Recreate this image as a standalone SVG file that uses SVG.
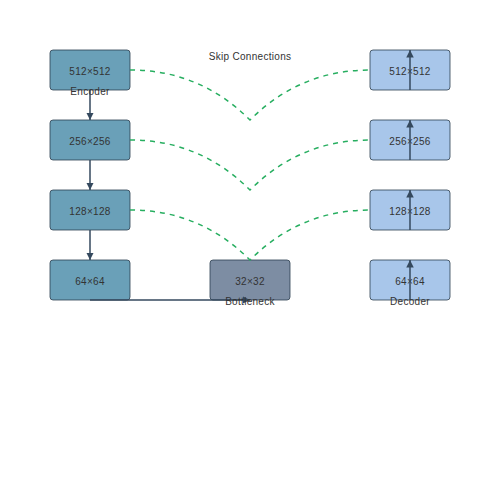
<svg xmlns="http://www.w3.org/2000/svg" width="500" height="500" viewBox="0 0 500 500">
<style>
.box{stroke:#2c3e50;stroke-opacity:0.8;stroke-width:1}
.enc{fill:#6aa0b8}
.dec{fill:#a8c6ea}
.bot{fill:#7d8da3}
.lbl{font-family:"Liberation Sans",Arial,sans-serif;font-size:10px;fill:#333;text-anchor:middle;dominant-baseline:middle;letter-spacing:0.3px}
.flow{stroke:#34495e;stroke-width:1.5;fill:none}
.skip{stroke:#27ae60;stroke-width:1.5;fill:none;stroke-dasharray:5,5}
</style>
<defs>
<marker id="ah" viewBox="0 0 10 10" refX="10" refY="5" markerWidth="5" markerHeight="5" orient="auto">
<path d="M0,0L10,5L0,10z" fill="#34495e"/>
</marker>
</defs>
<rect width="500" height="500" fill="#fff"/>
<g id="enc512"><rect class="box enc" x="50" y="50" width="80" height="40" rx="3"/><text class="lbl" x="90" y="72">512×512</text></g>
<g id="enc256"><rect class="box enc" x="50" y="120" width="80" height="40" rx="3"/><text class="lbl" x="90" y="142">256×256</text></g>
<g id="enc128"><rect class="box enc" x="50" y="190" width="80" height="40" rx="3"/><text class="lbl" x="90" y="212">128×128</text></g>
<g id="enc64"><rect class="box enc" x="50" y="260" width="80" height="40" rx="3"/><text class="lbl" x="90" y="282">64×64</text></g>
<g id="bottleneck"><rect class="box bot" x="210" y="260" width="80" height="40" rx="3"/><text class="lbl" x="250" y="282">32×32</text></g>
<g id="dec512"><rect class="box dec" x="370" y="50" width="80" height="40" rx="3"/><text class="lbl" x="410" y="72">512×512</text></g>
<g id="dec256"><rect class="box dec" x="370" y="120" width="80" height="40" rx="3"/><text class="lbl" x="410" y="142">256×256</text></g>
<g id="dec128"><rect class="box dec" x="370" y="190" width="80" height="40" rx="3"/><text class="lbl" x="410" y="212">128×128</text></g>
<g id="dec64"><rect class="box dec" x="370" y="260" width="80" height="40" rx="3"/><text class="lbl" x="410" y="282">64×64</text></g>
<g id="connectors">
<line class="flow" x1="90" y1="90" x2="90" y2="120" marker-end="url(#ah)"/>
<line class="flow" x1="90" y1="160" x2="90" y2="190" marker-end="url(#ah)"/>
<line class="flow" x1="90" y1="230" x2="90" y2="260" marker-end="url(#ah)"/>
<line class="flow" x1="90" y1="300" x2="250" y2="300" marker-end="url(#ah)"/>
<line class="flow" x1="410" y1="300" x2="410" y2="260" marker-end="url(#ah)"/>
<line class="flow" x1="410" y1="230" x2="410" y2="190" marker-end="url(#ah)"/>
<line class="flow" x1="410" y1="160" x2="410" y2="120" marker-end="url(#ah)"/>
<line class="flow" x1="410" y1="90" x2="410" y2="50" marker-end="url(#ah)"/>
<path class="skip" d="M130,70Q200,70 250,120Q300,70 370,70"/>
<path class="skip" d="M130,140Q200,140 250,190Q300,140 370,140"/>
<path class="skip" d="M130,210Q200,210 250,260Q300,210 370,210"/>
</g>
<g id="labels">
<text class="lbl" x="90" y="92">Encoder</text>
<text class="lbl" x="250" y="302">Bottleneck</text>
<text class="lbl" x="410" y="302">Decoder</text>
<text class="lbl" x="250" y="57">Skip Connections</text>
</g>
</svg>
